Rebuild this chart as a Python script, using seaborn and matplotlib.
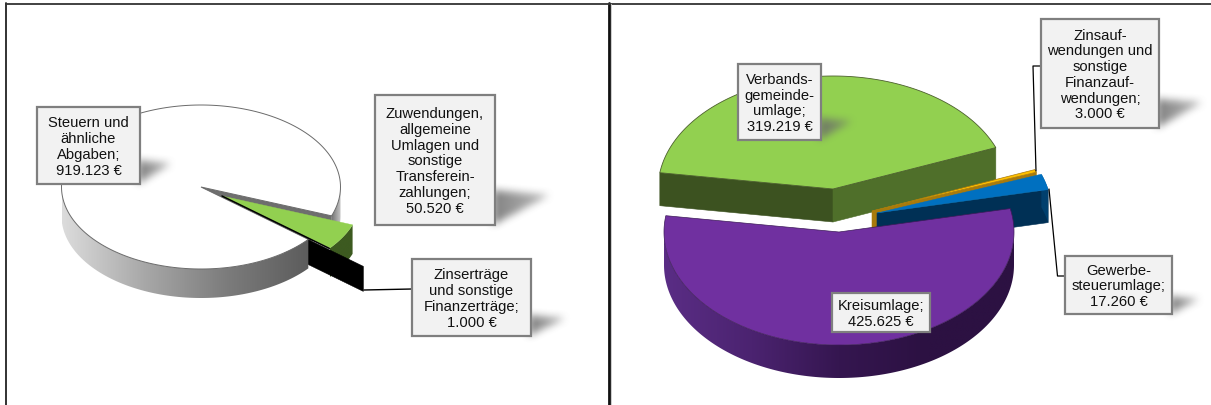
import numpy as np
import matplotlib
matplotlib.use("Agg")
import matplotlib.pyplot as plt
from matplotlib.patches import Polygon, Rectangle
from matplotlib.path import Path
import seaborn as sns

# ---- data ----
left_values = [50520, 1000, 919123]       # green, black, white (clockwise)
left_labels = ["Zuwendungen,\nallgemeine\nUmlagen und\nsonstige\nTransferein-\nzahlungen;\n50.520 €",
               "Zinserträge\nund sonstige\nFinanzerträge;\n1.000 €",
               "Steuern und\nähnliche\nAbgaben;\n919.123 €"]
right_values = [3000, 17260, 425625, 319219]   # orange, blue, purple, green (clockwise)
right_labels = ["Zinsauf-\nwendungen und\nsonstige\nFinanzauf-\nwendungen;\n3.000 €",
                "Gewerbe-\nsteuerumlage;\n17.260 €",
                "Kreisumlage;\n425.625 €",
                "Verbands-\ngemeinde-\numlage;\n319.219 €"]

sns.set_theme(style="white")
plt.rcParams["font.family"] = ["Liberation Sans", "DejaVu Sans"]

fig = plt.figure(figsize=(12.11, 4.06), dpi=100, facecolor="white")
ax = fig.add_axes([0, 0, 1, 1])
ax.axis("off")

z = [1]
def nz():
    z[0] += 1
    return z[0]

def angles_from(values, start):
    """Clockwise slice boundaries in degrees, from the values."""
    v = np.asarray(values, float)
    return start - np.concatenate([[0], np.cumsum(v / v.sum() * 360)])

def pt(c, rx, ry, a):
    r = np.radians(a)
    return c[0] + rx * np.cos(r), c[1] - ry * np.sin(r)

def top(c, rx, ry, a, b, color, ec="#444444", lw=0.5):
    t = np.linspace(a, b, 200)
    xs, ys = pt(c, rx, ry, t)
    P = np.column_stack([np.r_[c[0], xs], np.r_[c[1], ys]])
    ax.add_patch(Polygon(P, closed=True, fc=color, ec=ec, lw=lw, zorder=nz()))

def radial(c, rx, ry, a, depth, color):
    x, y = pt(c, rx, ry, a)
    ax.add_patch(Polygon([c, (x, y), (x, y + depth), (c[0], c[1] + depth)], closed=True,
                         fc=color, ec=color, lw=0.4, zorder=nz()))

def rim(c, rx, ry, a, b, depth, colors):
    """Rim of a slice, filled with a smooth left-to-right gradient."""
    t = np.linspace(a, b, 200)
    xs, ys = pt(c, rx, ry, t)
    P = np.column_stack([np.r_[xs, xs[::-1]], np.r_[ys, ys[::-1] + depth]])
    cmap = sns.blend_palette(colors, as_cmap=True)
    zo = nz()
    grad = np.linspace(0, 1, 256)[None, :]
    im = ax.imshow(grad, cmap=cmap, extent=[P[:, 0].min(), P[:, 0].max(), P[:, 1].max(), P[:, 1].min()],
                   aspect="auto", zorder=zo, interpolation="bilinear")
    im.set_clip_path(Polygon(P, closed=True, transform=ax.transData))

def shadow(tri, blur=4):
    """Soft cast shadow beside a label box."""
    tri = np.asarray(tri, float)
    m = 16
    x0, y0 = np.floor(tri.min(axis=0)) - m
    x1, y1 = np.ceil(tri.max(axis=0)) + m
    gx, gy = np.meshgrid(np.arange(x0, x1) + .5, np.arange(y0, y1) + .5)
    mask = Path(tri).contains_points(np.column_stack([gx.ravel(), gy.ravel()])).reshape(gx.shape).astype(float)
    k = np.ones(2 * blur + 1) / (2 * blur + 1)
    for _ in range(2):
        mask = np.apply_along_axis(lambda r: np.convolve(r, k, mode="same"), 0, mask)
        mask = np.apply_along_axis(lambda r: np.convolve(r, k, mode="same"), 1, mask)
    fade = 1 - 0.5 * np.clip((gx - tri[:, 0].min()) / (np.ptp(tri[:, 0]) + 1), 0, 1)
    rgba = np.zeros(gx.shape + (4,))
    rgba[..., :3] = 0.42
    rgba[..., 3] = np.clip(mask * fade * 0.85, 0, 1)
    ax.imshow(rgba, extent=[x0, x1, y1, y0], aspect="auto", zorder=nz(), interpolation="bilinear")

def label(box, text, tri=None):
    x0, y0, x1, y1 = box
    if tri is not None:
        shadow(tri)
    ax.add_patch(Rectangle((x0, y0), x1 - x0, y1 - y0, fc="#f2f2f2", ec="#7f7f7f", lw=1.6, zorder=nz()))
    ax.text((x0 + x1) / 2, (y0 + y1) / 2 + 0.5, text, ha="center", va="center", fontsize=10.6,
            color="#111111", linespacing=1.16, zorder=nz())

# ---- left pie ----
L_RX, L_RY, L_D = 139.5, 82, 29
L_C, L_GC, L_BC = (201, 188), (222, 197), (256, 215)
la = angles_from(left_values, -20.6)

radial(L_C, L_RX, L_RY, la[0], L_D, "#6e6e6e")
rim(L_GC, L_RX, L_RY, la[0], la[1], L_D, ["#3d5a20", "#3d5a20"])
radial(L_BC, L_RX, L_RY, la[2], 25, "#000000")
rim(L_C, L_RX, L_RY, la[0], 0, L_D, ["#777777", "#c8c8c8"])
rim(L_C, L_RX, L_RY, -180, la[2], L_D, ["#dcdcdc", "#a8a8a8", "#7c7c7c", "#5c5c5c"])
top(L_C, L_RX, L_RY, la[2], la[3], "#ffffff", ec="#6a6a6a", lw=0.7)
top(L_GC, L_RX, L_RY, la[0], la[1], "#92d050", ec="#92d050", lw=0.3)
gx_, gy_ = pt(L_GC, L_RX, L_RY, la[2])
ax.plot([L_GC[0], gx_], [L_GC[1], gy_], color="black", lw=1.1, zorder=nz())

ax.plot([364, 412], [291, 290], color="black", lw=1, zorder=nz())
label((37, 108, 140, 185), left_labels[2], [(138, 162), (138, 185), (172, 165)])
label((375, 96, 495, 226), left_labels[0], [(493, 191), (493, 226), (550, 196)])
label((412, 260, 531, 337), left_labels[1], [(529, 316), (529, 337), (566, 319)])

# ---- right pie ----
R_RX, R_RY, R_D = 175, 113, 33
R_GC, R_PC, R_BC, R_OC = (833, 190), (839, 233), (877, 214), (872, 212)
ra = angles_from(right_values, 21.5)      # 21.5 -> orange -> blue -> purple -> green

radial(R_GC, R_RX, R_RY, ra[3] + 360, R_D, "#3c5220")
radial(R_GC, R_RX, R_RY, ra[0], R_D, "#4f6f2a")
top(R_GC, R_RX, R_RY, ra[0], ra[0] + (ra[3] - ra[4]), "#92d050", ec="#4b5f2c", lw=0.6)

radial(R_OC, R_RX, R_RY, ra[1], R_D, "#a87a0c")
top(R_OC, R_RX, R_RY, ra[0], ra[1], "#ffc000", ec="#a87a0c", lw=0.5)
radial(R_BC, R_RX, R_RY, ra[2], R_D, "#003055")
rim(R_BC, R_RX, R_RY, ra[1], ra[2], R_D, ["#00406e", "#00406e"])
top(R_BC, R_RX, R_RY, ra[1], ra[2], "#0070c0", ec="#0070c0", lw=0.3)

rim(R_PC, R_RX, R_RY, -180, 0, R_D, ["#5a2d85", "#4b2370", "#351650", "#2c1142", "#2c1142"])
top(R_PC, R_RX, R_RY, ra[2], ra[3], "#7030a0", ec="#3c1a58", lw=0.5)

ax.plot([1041, 1033, 1036], [67, 67, 172], color="black", lw=0.9, zorder=nz())
ax.plot([1065, 1057.5, 1049], [277, 277, 190], color="black", lw=0.9, zorder=nz())
label((738, 65, 821, 141), right_labels[3], [(819, 119), (819, 141), (853, 122)])
label((1041, 20, 1159, 129), right_labels[0], [(1157, 100), (1157, 129), (1203, 103)])
label((1065, 257, 1172, 315), right_labels[1], [(1170, 297), (1170, 315), (1200, 300)])
label((832, 294, 930, 333), right_labels[2])

# ---- panel frame ----
ax.plot([6, 6], [4, 406], color="#222222", lw=1.3, zorder=nz())
ax.plot([608.5, 608.5], [4, 406], color="#111111", lw=2.0, zorder=nz())
ax.plot([6, 1211], [4.5, 4.5], color="#333333", lw=1.3, zorder=nz())
ax.plot([610.5, 610.5], [5, 406], color="#cccccc", lw=0.7, zorder=nz())

ax.set_xlim(0, 1211)
ax.set_ylim(406, 0)
fig.savefig("out.png", dpi=100, facecolor="white")
